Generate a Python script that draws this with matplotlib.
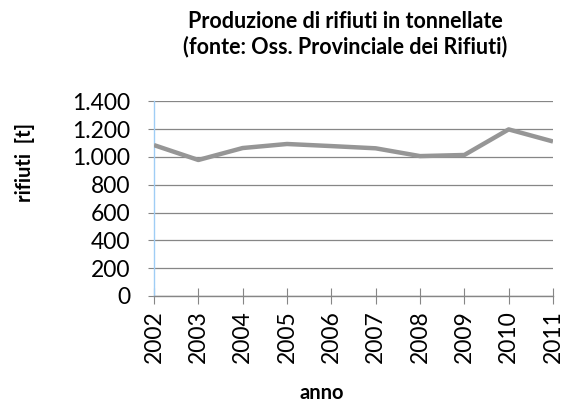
import matplotlib
matplotlib.use("Agg")
import matplotlib.pyplot as plt
from matplotlib.ticker import FuncFormatter

years = [2002, 2003, 2004, 2005, 2006, 2007, 2008, 2009, 2010, 2011]
values = [1085, 978, 1064, 1093, 1078, 1062, 1006, 1014, 1198, 1111]
yticks = [0, 200, 400, 600, 800, 1000, 1200, 1400]

plt.rcParams['font.family'] = ['Lato', 'DejaVu Sans']

fig = plt.figure(figsize=(5.64, 4.03), dpi=100)
ax = fig.add_axes([154/564, 1-296/403, (553-154)/564, (296-101.3)/403])

ax.plot(years, values, color='#969696', linewidth=3.2, solid_capstyle='butt', zorder=3)

ax.set_xlim(2002, 2011)
ax.set_ylim(0, 1400)
ax.set_yticks(yticks)
ax.yaxis.set_major_formatter(FuncFormatter(lambda v, p: f"{int(v):,}".replace(",", ".")))
ax.set_xticks(years)
ax.set_xticklabels([str(y) for y in years], rotation=90)

ax.grid(axis='y', color='#868686', linewidth=0.9, zorder=1)
for s in ['top', 'right']:
    ax.spines[s].set_visible(False)
ax.spines['left'].set_color('#9fcdf5')
ax.spines['left'].set_linewidth(1.0)
ax.spines['bottom'].set_color('#868686')
ax.spines['bottom'].set_linewidth(1.0)
ax.tick_params(axis='y', length=4, color='#868686', labelsize=16.5, pad=13)
ax.tick_params(axis='x', direction='inout', length=11, color='#868686', labelsize=16.5, pad=5)

fig.text(345/564, 1-22/403, "Produzione di rifiuti in tonnellate", ha='center', va='center',
         fontsize=15.5, fontweight='bold')
fig.text(345/564, 1-47/403, "(fonte: Oss. Provinciale dei Rifiuti)", ha='center', va='center',
         fontsize=15.5, fontweight='bold')
fig.text(25/564, 1-163/403, "rifiuti  [t]", ha='center', va='center', rotation=90,
         fontsize=14.5, fontweight='bold')
fig.text(322/564, 1-393/403, "anno", ha='center', va='center',
         fontsize=14.5, fontweight='bold')

fig.savefig("out.png", dpi=100)
